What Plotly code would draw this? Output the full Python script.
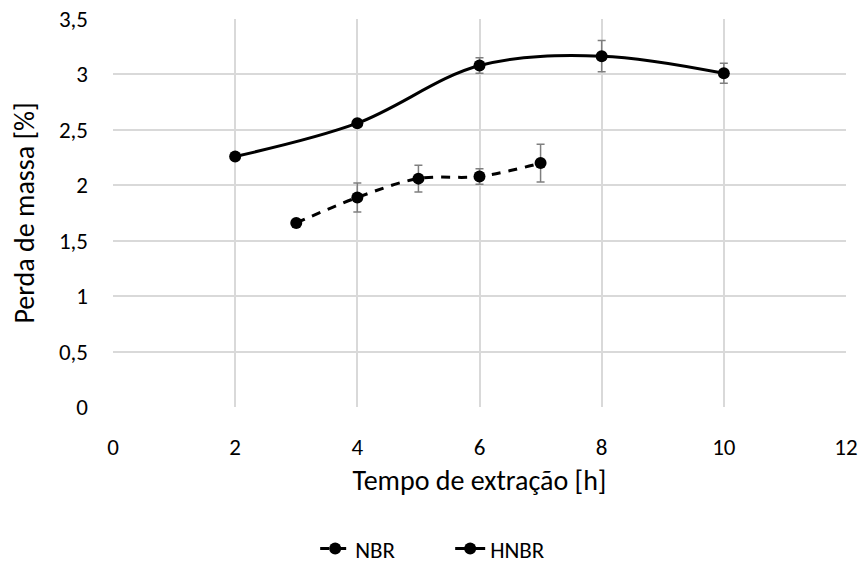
import plotly.graph_objects as go

nbr_x = [3, 4, 5, 6, 7]
nbr_y = [1.66, 1.89, 2.06, 2.08, 2.20]
nbr_err = [0.0, 0.13, 0.12, 0.07, 0.17]

hnbr_x = [2, 4, 6, 8, 10]
hnbr_y = [2.26, 2.56, 3.08, 3.165, 3.01]
hnbr_err = [0.0, 0.0, 0.07, 0.14, 0.09]

x_ticks = [0, 2, 4, 6, 8, 10, 12]
y_ticks = [0, 0.5, 1, 1.5, 2, 2.5, 3, 3.5]
y_labels = ["0", "0,5", "1", "1,5", "2", "2,5", "3", "3,5"]

FONT = "Carlito, Lato, sans-serif"
FS = 23

fig = go.Figure()
fig.add_trace(go.Scatter(
    x=nbr_x, y=nbr_y, name="NBR", mode="lines+markers",
    line=dict(color="black", width=3, dash="9px,8px", shape="spline"),
    marker=dict(color="black", size=12),
    error_y=dict(type="data", array=nbr_err, color="#7f7f7f", thickness=1.5, width=4),
))
fig.add_trace(go.Scatter(
    x=hnbr_x, y=hnbr_y, name="HNBR", mode="lines+markers",
    line=dict(color="black", width=3, shape="spline"),
    marker=dict(color="black", size=12),
    error_y=dict(type="data", array=hnbr_err, color="#7f7f7f", thickness=1.5, width=4),
))

fig.update_layout(
    width=864, height=569,
    margin=dict(l=113, r=18, t=19, b=162, autoexpand=False),
    paper_bgcolor="white", plot_bgcolor="white",
    font=dict(family=FONT, size=FS, color="black"),
    showlegend=True,
    legend=dict(orientation="h", x=0.46, xanchor="center", y=-0.365, yanchor="middle",
                font=dict(size=FS), entrywidth=90, tracegroupgap=0),
    xaxis=dict(range=[0, 12], tickvals=x_ticks, showgrid=True, gridcolor="#d9d9d9",
               gridwidth=1.5, zeroline=False, showline=False, ticks="", automargin=False,
               ticklabelstandoff=24,
               title=dict(text="Tempo de extração [h]", standoff=10),
               tickfont=dict(size=FS)),
    yaxis=dict(range=[0, 3.5], tickvals=y_ticks, ticktext=y_labels, showgrid=True,
               gridcolor="#d9d9d9", gridwidth=1.5, zeroline=False, showline=False, ticks="",
               automargin=False,
               ticklabelstandoff=24,
               title=dict(text="Perda de massa [%]", standoff=16),
               tickfont=dict(size=FS)),
)
fig.write_html("out.html")
